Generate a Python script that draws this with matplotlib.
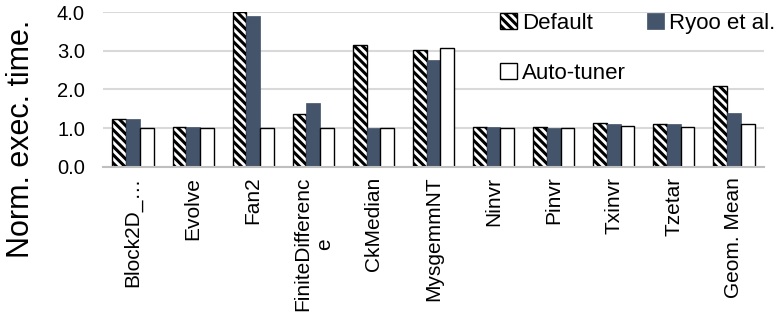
import matplotlib
matplotlib.use("Agg")
import matplotlib.pyplot as plt
import numpy as np

categories = ["Block2D_…", "Evolve", "Fan2", "FiniteDifferenc\ne", "CkMedian",
              "MysgemmNT", "Ninvr", "Pinvr", "Txinvr", "Tzetar", "Geom. Mean"]
default = [1.25, 1.04, 4.0, 1.38, 3.14, 3.01, 1.03, 1.04, 1.14, 1.10, 2.09]
ryoo = [1.23, 1.04, 3.90, 1.66, 1.0, 2.76, 1.03, 1.0, 1.11, 1.10, 1.40]
autotuner = [1.0, 1.0, 1.0, 1.0, 1.0, 3.07, 1.0, 1.0, 1.07, 1.04, 1.12]
yticks = [0.0, 1.0, 2.0, 3.0, 4.0]

plt.rcParams['font.family'] = ['Liberation Sans', 'DejaVu Sans']
plt.rcParams['hatch.linewidth'] = 2.2

W, H = 775, 321
fig = plt.figure(figsize=(W / 100, H / 100), dpi=100)
ax = fig.add_axes([103 / W, 1 - 167 / H, (764 - 103) / W, (167 - 12) / H])

x = np.arange(len(categories))
w = 0.228
b1 = ax.bar(x - w, default, w, color='white', edgecolor='black', linewidth=1.0,
            hatch='\\\\\\\\', label='Default', zorder=3)
b2 = ax.bar(x, ryoo, w, color='#44546A', edgecolor='#44546A', linewidth=0.5,
            label='Ryoo et al.', zorder=3)
b3 = ax.bar(x + w, autotuner, w, color='white', edgecolor='black', linewidth=1.0,
            label='Auto-tuner', zorder=3)

ax.set_xlim(-0.5, len(categories) - 0.5)
ax.set_ylim(0, 4.0)
ax.set_yticks(yticks)
ax.set_yticklabels([f"{v:.1f}" for v in yticks], fontsize=14.5)
ax.yaxis.grid(True, color='#D9D9D9', linewidth=1.5, zorder=0)
ax.set_axisbelow(True)
for s in ['left', 'right', 'top']:
    ax.spines[s].set_visible(False)
ax.spines['bottom'].set_color('#BFBFBF')
ax.spines['bottom'].set_linewidth(1.5)
ax.spines['bottom'].set_zorder(4)
ax.set_xticks(x)
ax.set_xticklabels(categories, rotation=90, fontsize=15, ha='center', va='top')
ax.tick_params(axis='x', length=0, pad=7)
ax.tick_params(axis='y', length=0, pad=13)

fig.text(21 / W, 1 - 139 / H, "Norm. exec. time.", rotation=90, fontsize=22,
         ha='center', va='center')

leg = ax.legend([b1, b3, b2], ['Default', 'Auto-tuner', 'Ryoo et al.'], ncol=2,
                loc='upper left', bbox_to_anchor=(500 / W, 1 - 13 / H),
                bbox_transform=fig.transFigure, frameon=False, fontsize=16,
                handlelength=0.75, handleheight=0.75, handletextpad=0.25,
                columnspacing=0.95, labelspacing=1.3, borderpad=0, borderaxespad=0)

fig.savefig("out.png", dpi=100)
